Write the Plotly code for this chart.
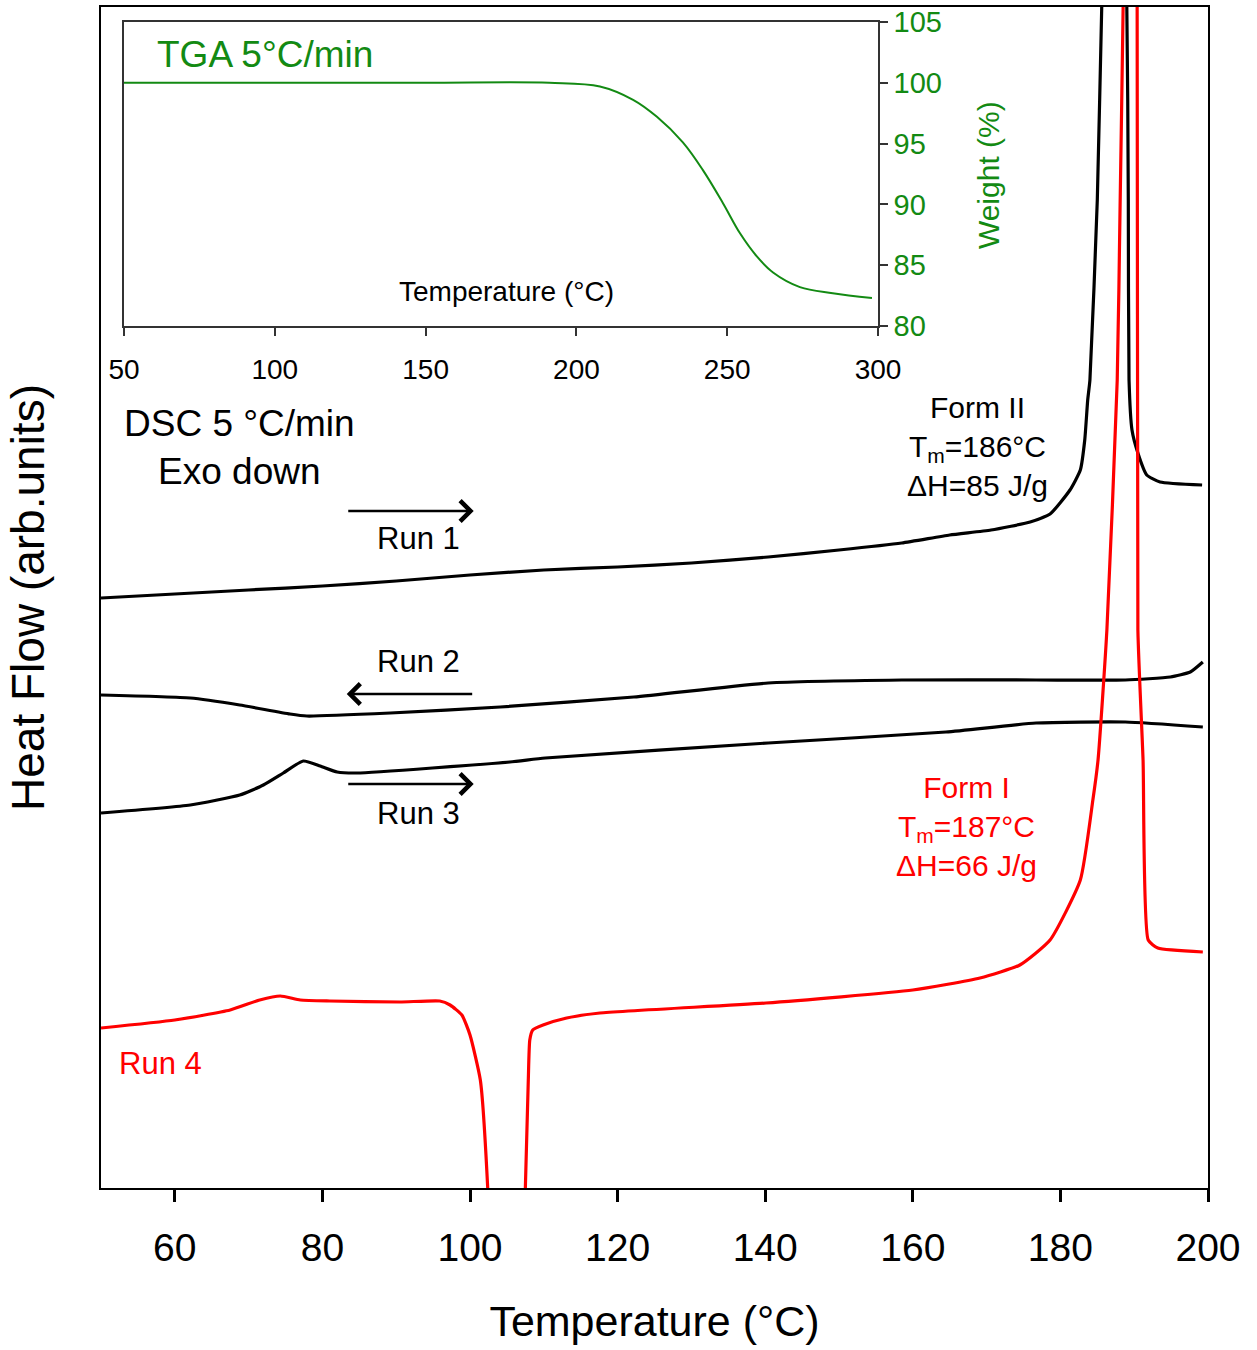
import plotly.graph_objects as go

# ---------------- DSC data (arbitrary heat-flow units) ----------------
run1_T = [50, 60, 70, 80, 90, 100, 110, 120, 130, 140.4, 150, 158.5, 165, 170.6, 175.9,
          178.6, 181.3, 182.7, 183.3, 183.7, 184.0, 185.0, 185.6, 187.2, 189.0, 189.2,
          189.3, 189.7, 190.5, 191.7, 193.5, 199.2]
run1_Y = [59.0, 59.4, 59.8, 60.2, 60.7, 61.3, 61.8, 62.1, 62.5, 63.1, 63.8, 64.5, 65.3, 65.8, 66.6,
          67.4, 69.8, 71.8, 74.8, 78.8, 80.8, 98.8, 118.1, 160.0, 118.1, 98.8,
          80.8, 75.8, 73.5, 71.3, 70.6, 70.3]

run2_T = [50, 62.1, 68.8, 75.6, 77.9, 89.2, 104.1, 122.2, 140.4, 158.5, 176.7, 188.8, 194.9, 197.6, 199.3]
run2_Y = [49.3, 49.0, 48.3, 47.4, 47.2, 47.5, 48.1, 49.1, 50.5, 50.8, 50.8, 50.8, 51.1, 51.6, 52.6]

run3_T = [50, 62.1, 68.8, 72.0, 74.7, 77.4, 79.7, 82.0, 84.7, 105.4, 110.2, 140.4, 164.5, 176.7, 188.8, 199.3]
run3_Y = [37.5, 38.3, 39.3, 40.3, 41.5, 42.7, 42.2, 41.6, 41.5, 42.6, 43.0, 44.5, 45.6, 46.5, 46.6, 46.1]

run4_T = [50, 60, 67.5, 71.5, 74.3, 77, 81, 90.5, 95.9, 97.3, 98.9, 100, 101.4, 102.4, 105.0,
          107.5, 107.9, 108.1, 108.5, 109.9, 113.1, 117.6, 140.1, 160, 169.1, 174.5, 178.6,
          182.7, 184.4, 185.1, 186.3, 187.7, 188.1, 188.5, 189.1, 190.4, 190.5, 191.2, 191.9,
          193.2, 199.3]
run4_Y = [16.0, 16.8, 17.8, 18.8, 19.2, 18.8, 18.7, 18.6, 18.7, 18.3, 17.3, 15.3, 10.8, 0.0, -60.0,
          0.0, 10.8, 14.8, 15.8, 16.3, 17.0, 17.5, 18.5, 19.8, 21.0, 22.3, 24.8,
          30.8, 38.8, 42.8, 55.8, 80.8, 98.8, 118.1, 160.0, 118.1, 55.8, 42.8, 24.8,
          24.0, 23.6]

# ---------------- TGA data ----------------
tga_T = [50, 100, 150, 191, 207.8, 218.8, 226.7, 235.3, 242, 248.6, 254.3, 259.9, 265.2, 274.1, 285, 298]
tga_W = [100.0, 100.0, 100.0, 100.0, 99.7, 98.6, 97.2, 95.1, 92.8, 90.1, 87.6, 85.7, 84.4, 83.2, 82.7, 82.3]

main_ticks = [60, 80, 100, 120, 140, 160, 180, 200]
inset_xticks = [50, 100, 150, 200, 250, 300]
inset_yticks = [80, 85, 90, 95, 100, 105]

FONT = "Liberation Sans, Arial, sans-serif"
GREEN = "#138a13"
RED = "#ff0000"

fig = go.Figure()
for T, Y, c in [(run1_T, run1_Y, "black"), (run2_T, run2_Y, "black"),
                (run3_T, run3_Y, "black"), (run4_T, run4_Y, RED)]:
    fig.add_trace(go.Scatter(x=T, y=Y, mode="lines",
                             line=dict(color=c, width=3.2, shape="spline", smoothing=0.5),
                             showlegend=False, xaxis="x", yaxis="y"))

fig.add_trace(go.Scatter(x=tga_T, y=tga_W, mode="lines",
                         line=dict(color=GREEN, width=2, shape="spline", smoothing=1.0),
                         showlegend=False, xaxis="x2", yaxis="y2"))

fig.update_layout(
    width=1257, height=1350,
    margin=dict(l=101, r=49, t=7, b=162, autoexpand=False),
    paper_bgcolor="white", plot_bgcolor="white",
    font=dict(family=FONT, color="black"),
    xaxis=dict(range=[50, 200], tickvals=main_ticks, ticks="outside", ticklen=12, tickwidth=2.5,
               tickcolor="black", showline=True, linecolor="black", linewidth=2, mirror=True,
               showgrid=False, zeroline=False, tickfont=dict(size=39), ticklabelstandoff=12,
               automargin=False,
               title=dict(text="Temperature (°C)", font=dict(size=43), standoff=38)),
    yaxis=dict(range=[0, 118.1], showticklabels=False, ticks="", showline=True, linecolor="black",
               linewidth=2, mirror=True, showgrid=False, zeroline=False, automargin=False,
               title=dict(text="Heat Flow (arb.units)", font=dict(size=46), standoff=40)),
    xaxis2=dict(domain=[0.0208, 0.7019], anchor="y2", range=[50, 300], tickvals=inset_xticks,
                ticks="outside", ticklen=8, tickwidth=2, tickcolor="#333", showline=True,
                linecolor="#333", linewidth=1.5, mirror=True, showgrid=False, zeroline=False,
                tickfont=dict(size=28), ticklabelstandoff=10, automargin=False),
    yaxis2=dict(domain=[0.7299, 0.9873], anchor="x2", side="right", range=[80, 105], tickvals=inset_yticks,
                ticks="outside", ticklen=8, tickwidth=2, tickcolor="#333", showline=True,
                linecolor="#333", linewidth=1.5, mirror=True, showgrid=False, zeroline=False,
                tickfont=dict(size=29, color=GREEN), automargin=False),
)

ann = []
# inset texts
ann.append(dict(x=60.3, y=102.3, xref="x2", yref="y2", text="TGA 5°C/min", showarrow=False,
                xanchor="left", font=dict(size=37, color=GREEN)))
ann.append(dict(x=176.7, y=82.8, xref="x2", yref="y2", text="Temperature (°C)", showarrow=False,
                xanchor="center", font=dict(size=28, color="black")))
ann.append(dict(x=0.8013, y=0.8577, xref="paper", yref="paper", text="Weight (%)", showarrow=False,
                xanchor="center", yanchor="middle", textangle=-90, font=dict(size=30, color=GREEN)))
# main texts
ann.append(dict(x=68.7, y=74.1, xref="x", yref="y", text="DSC 5 °C/min<br>Exo down", showarrow=False,
                xanchor="center", font=dict(size=37)))
for txt, yv in [("Run 1", 65.0), ("Run 2", 52.7), ("Run 3", 37.5)]:
    ann.append(dict(x=93.0, y=yv, xref="x", yref="y", text=txt, showarrow=False,
                    xanchor="center", font=dict(size=31)))
ann.append(dict(x=58.1, y=12.5, xref="x", yref="y", text="Run 4", showarrow=False,
                xanchor="center", font=dict(size=31, color=RED)))
ann.append(dict(x=168.8, y=74.2, xref="x", yref="y",
                text="Form II<br>T<sub>m</sub>=186°C<br>ΔH=85 J/g", showarrow=False,
                xanchor="center", font=dict(size=30)))
ann.append(dict(x=167.3, y=36.2, xref="x", yref="y",
                text="Form I<br>T<sub>m</sub>=187°C<br>ΔH=66 J/g", showarrow=False,
                xanchor="center", font=dict(size=30, color=RED)))
# arrows
for (x0, x1, yv) in [(83.3, 100.5, 67.7), (100.5, 83.3, 49.4), (83.3, 100.5, 40.4)]:
    ann.append(dict(x=x1, y=yv, ax=x0, ay=yv, xref="x", yref="y", axref="x", ayref="y",
                    text="", showarrow=True, arrowhead=4, arrowsize=1.6, arrowwidth=2.5,
                    arrowcolor="black"))
fig.update_layout(annotations=ann)

fig.write_html("out.html")
